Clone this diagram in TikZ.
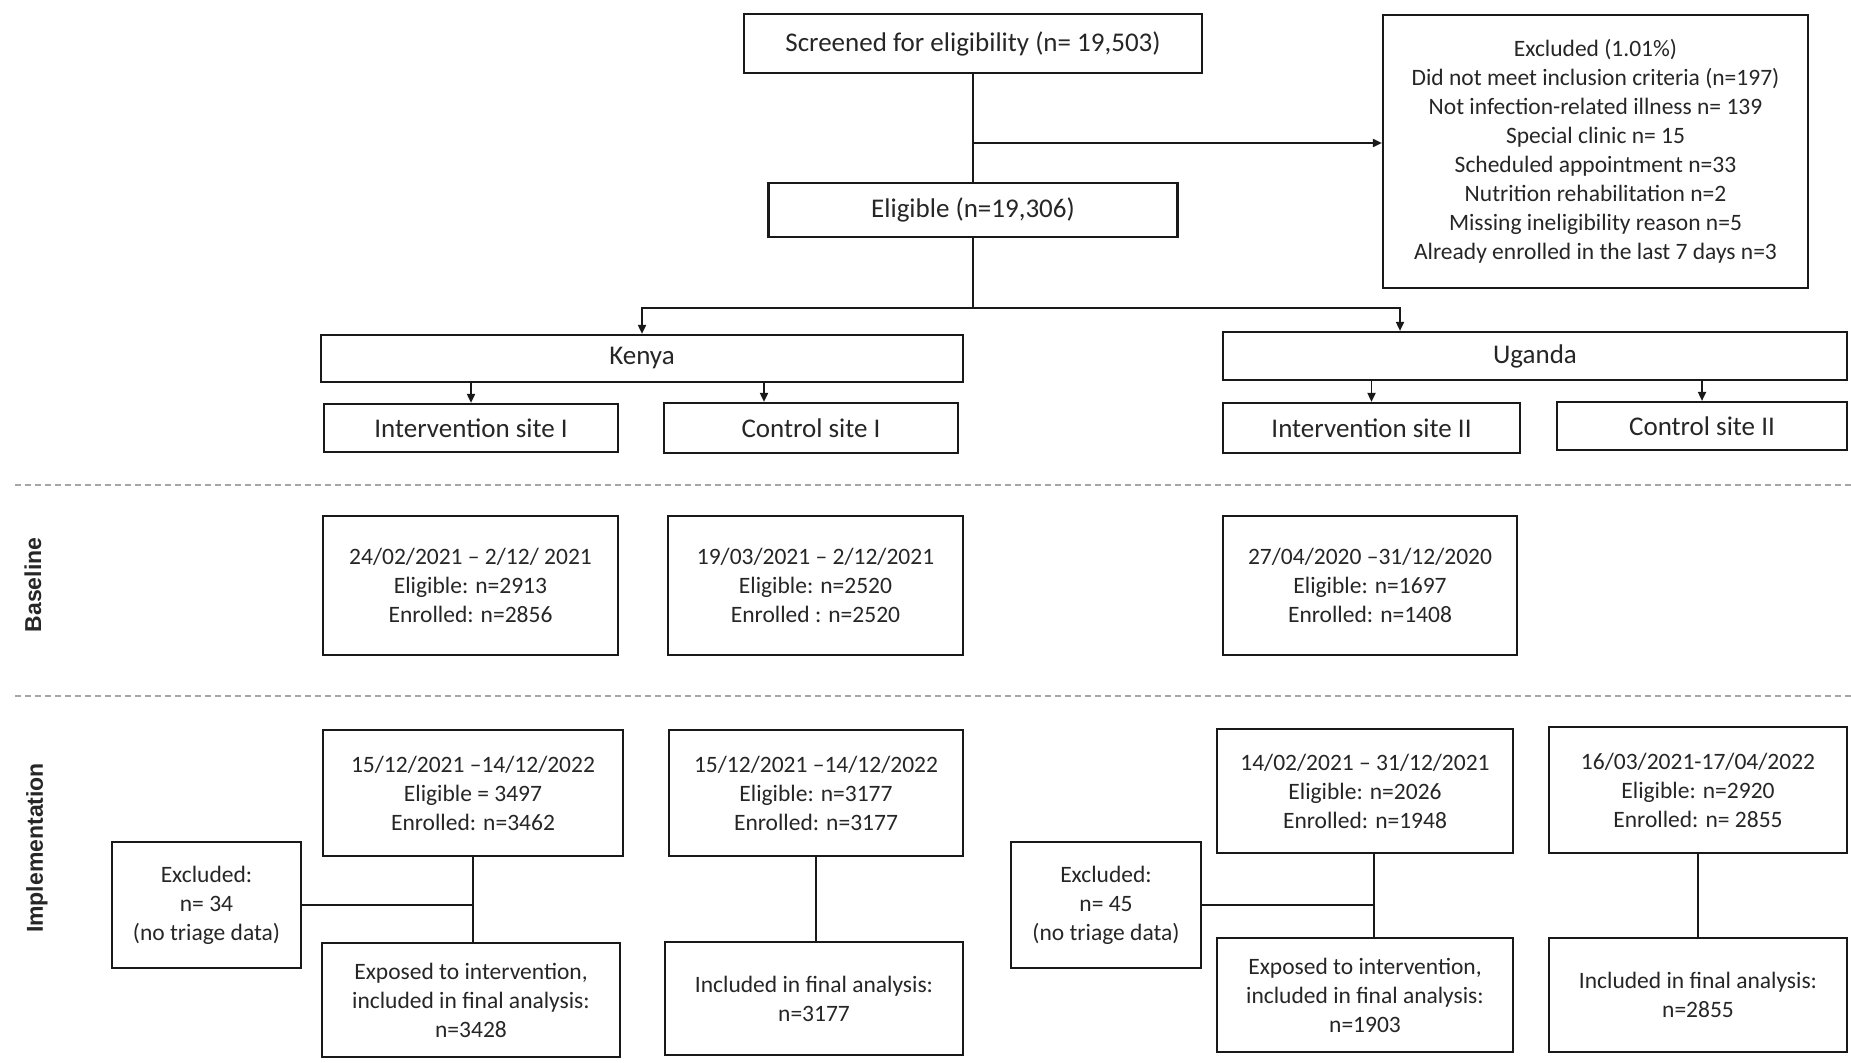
\documentclass[tikz,border=0pt]{standalone}
\usepackage{fontspec}
\setmainfont{Carlito}
\newfontfamily\labfont{Liberation Sans}
\usetikzlibrary{arrows.meta,calc}
\begin{document}
\begin{tikzpicture}[x=1pt,y=-1pt,
  box/.style={draw=black!90, line width=2.2pt, fill=white, inner sep=0pt, align=center, text=black!85},
  big/.style={font=\fontsize{27}{33}\selectfont},
  small/.style={font=\fontsize{23.5}{29}\selectfont},
  conn/.style={draw=black!90, line width=1.8pt},
  arr/.style={conn, -{Triangle[length=9pt,width=8pt]}},
  sep/.style={draw=black!35, line width=2.5pt, dash pattern=on 6pt off 4pt},
  lab/.style={rotate=90, font=\labfont\bfseries\fontsize{23}{27}\selectfont, text=black!85}
]
\useasboundingbox (0,0) rectangle (1851,1062);
\fill[white] (0,0) rectangle (1851,1062);

% top
\node[box,big,minimum width=458pt,minimum height=59pt] (scr) at (973,43.5) {Screened for eligibility (n= 19,503)};
\node[box,big,minimum width=409pt,minimum height=54pt] (elig) at (973,210) {Eligible (n=19,306)};
\node[box,small,minimum width=425pt,minimum height=273pt] (excl) at (1595.5,151.5) {Excluded (1.01\%)\\Did not meet inclusion criteria (n=197)\\Not infection-related illness n= 139\\Special clinic n= 15\\Scheduled appointment n=33\\Nutrition rehabilitation n=2\\Missing ineligibility reason n=5\\Already enrolled in the last 7 days n=3};

% countries and sites
\node[box,big,minimum width=642pt,minimum height=47pt] (kenya) at (642,358.5) {Kenya};
\node[box,big,minimum width=624pt,minimum height=48pt] (uganda) at (1535,356) {Uganda};
\node[box,big,minimum width=294pt,minimum height=48pt] (is1) at (471,428) {Intervention site I};
\node[box,big,minimum width=294pt,minimum height=50pt] (cs1) at (811,428) {Control site I};
\node[box,big,minimum width=297pt,minimum height=50pt] (is2) at (1371.5,428) {Intervention site II};
\node[box,big,minimum width=290pt,minimum height=48pt] (cs2) at (1702,426) {Control site II};

% separators and labels
\draw[sep] (15,485) -- (1851,485);
\draw[sep] (15,696) -- (1851,696);
\node[lab] (lbase) at (33,585) {Baseline};
\node[lab] (limp) at (37,848) {Implementation};

% baseline
\node[box,small,minimum width=295pt,minimum height=139pt] (b1) at (470.5,585.5) {24/02/2021 -- 2/12/ 2021\\Eligible: n=2913\\Enrolled: n=2856};
\node[box,small,minimum width=295pt,minimum height=139pt] (b2) at (815.5,585.5) {19/03/2021 -- 2/12/2021\\Eligible: n=2520\\Enrolled : n=2520};
\node[box,small,minimum width=294pt,minimum height=139pt] (b3) at (1370,585.5) {27/04/2020 --31/12/2020\\Eligible: n=1697\\Enrolled: n=1408};

% implementation
\node[box,small,minimum width=300pt,minimum height=126pt] (i1) at (473,793) {15/12/2021 --14/12/2022\\Eligible = 3497\\Enrolled: n=3462};
\node[box,small,minimum width=294pt,minimum height=126pt] (i2) at (816,793) {15/12/2021 --14/12/2022\\Eligible: n=3177\\Enrolled: n=3177};
\node[box,small,minimum width=296pt,minimum height=124pt] (i3) at (1365,791) {14/02/2021 -- 31/12/2021\\Eligible: n=2026\\Enrolled: n=1948};
\node[box,small,minimum width=298pt,minimum height=126pt] (i4) at (1698,790) {16/03/2021-17/04/2022\\Eligible: n=2920\\Enrolled: n= 2855};
\node[box,small,minimum width=189pt,minimum height=126pt] (x1) at (206.5,905) {Excluded:\\n= 34\\(no triage data)};
\node[box,small,minimum width=190pt,minimum height=126pt] (x2) at (1106,905) {Excluded:\\n= 45\\(no triage data)};
\node[box,small,minimum width=298pt,minimum height=114pt] (f1) at (471,1000) {Exposed to intervention,\\included in final analysis:\\n=3428};
\node[box,small,minimum width=298pt,minimum height=113pt] (f2) at (814,998.5) {Included in final analysis:\\n=3177};
\node[box,small,minimum width=296pt,minimum height=114pt] (f3) at (1365,995) {Exposed to intervention,\\included in final analysis:\\n=1903};
\node[box,small,minimum width=298pt,minimum height=114pt] (f4) at (1698,995) {Included in final analysis:\\n=2855};

% connectors top
\coordinate (br) at (973,143);
\coordinate (sp) at (973,308);
\coordinate (ugin) at ([xshift=-135pt]uganda.north);
\coordinate (cs1in) at ([xshift=-47pt]cs1.north);
\coordinate (i3out) at ([xshift=9pt]i3.south);
\draw[conn] (scr.south) -- (elig.north);
\draw[arr] (br) -- (br -| excl.west);
\draw[conn] (elig.south) -- (sp);
\draw[arr] (sp) -| (kenya.north);
\draw[arr] (sp) -| (ugin);
\draw[arr] (is1.north |- kenya.south) -- (is1.north);
\draw[arr] (cs1in |- kenya.south) -- (cs1in);
\draw[arr] (is2.north |- uganda.south) -- (is2.north);
\draw[arr] (cs2.north |- uganda.south) -- (cs2.north);

% connectors implementation
\draw[conn] (i1.south) -- (i1.south |- f1.north);
\draw[conn] (x1.east) -- (x1.east -| i1.south);
\draw[conn] (i2.south) -- (i2.south |- f2.north);
\draw[conn] (i3out) -- (i3out |- f3.north);
\draw[conn] (x2.east) -- (x2.east -| i3out);
\draw[conn] (i4.south) -- (i4.south |- f4.north);
\end{tikzpicture}
\end{document}
